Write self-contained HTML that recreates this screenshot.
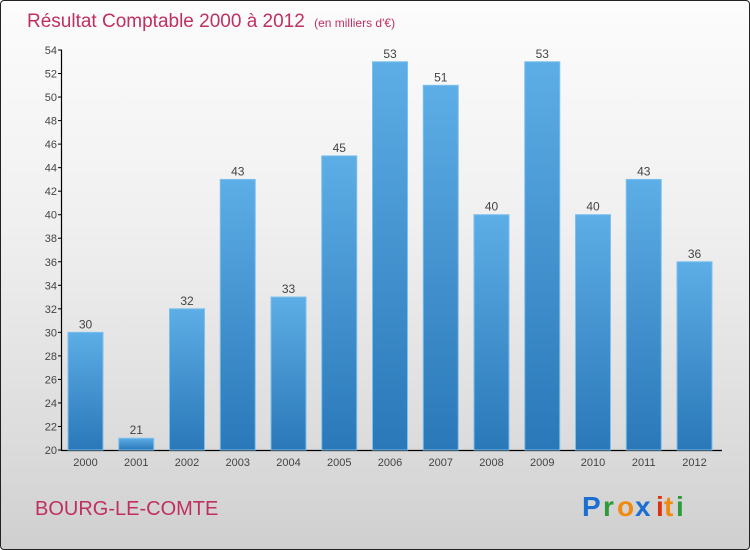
<!DOCTYPE html>
<html><head><meta charset="utf-8"><style>
html,body{margin:0;padding:0}
body{width:750px;height:550px;overflow:hidden;font-family:"Liberation Sans",sans-serif}
#wrap{position:absolute;left:0;top:0;width:748px;height:548px;border:1px solid #222;border-radius:4px;background:linear-gradient(#fcfcfc 0%,#f0f0f0 40%,#dcdcdc 80%,#cfcfcf 100%)}
</style></head><body>
<div id="wrap">
<svg width="750" height="550" style="position:absolute;left:-1px;top:-1px">
<defs>
<linearGradient id="bg" x1="0" y1="0" x2="0" y2="1"><stop offset="0" stop-color="#5dade6"/><stop offset="1" stop-color="#2a78b8"/></linearGradient>
</defs>
<text x="27" y="27" font-size="19" fill="#c0305f">Résultat Comptable 2000 à 2012 <tspan font-size="12" dx="4">(en milliers d'€)</tspan></text>
<g id="plot"></g>
<text x="35" y="515" font-size="20" fill="#c0305f">BOURG-LE-COMTE</text>
<g font-size="28" font-weight="bold">
<text x="582" y="516" fill="#1a6fd0">P</text><text x="603" y="516" fill="#2e9a3a">r</text><text x="617" y="516" fill="#f08a10">o</text><text x="635" y="516" fill="#1a6fd0">x</text><text x="656" y="516" fill="#e03010">i</text><text x="664" y="516" fill="#f08a10">t</text><text x="676" y="516" fill="#2e9a3a">i</text>
</g>
</svg>
</div>
<script>
const categories=["2000","2001","2002","2003","2004","2005","2006","2007","2008","2009","2010","2011","2012"];
const values=[30,21,32,43,33,45,53,51,40,53,40,43,36];
const yTicks=[20,22,24,26,28,30,32,34,36,38,40,42,44,46,48,50,52,54];
const NS="http://www.w3.org/2000/svg";
const g=document.getElementById('plot');
const y=v=>450-(v-20)*(400/34);
const x=i=>85.5+i*50.75;
function mk(t,a){const e=document.createElementNS(NS,t);for(const k in a)e.setAttribute(k,a[k]);g.appendChild(e);return e;}
let e=mk('line',{x1:61.5,y1:50,x2:61.5,y2:450.5,stroke:'#000','stroke-width':1.2});


e=mk('line',{x1:61,y1:450.5,x2:722,y2:450.5,stroke:'#000','stroke-width':1.2});


yTicks.forEach(v=>{
 const t=mk('line',{x1:58,x2:62,y1:y(v),y2:y(v),stroke:'#000'});
 
 
 const l=mk('text',{x:57,y:y(v)+4,'font-size':11,fill:'#444','text-anchor':'end'});
 l.textContent=v;
 
 
});
categories.forEach((c,i)=>{
 const v=values[i];
 const b=mk('rect',{x:x(i)-17.5,y:y(v),width:35,height:450-y(v),fill:'url(#bg)',stroke:'#7cc0ee','stroke-width':1});
 
 
 const vl=mk('text',{x:x(i),y:y(v)-4,'font-size':12,fill:'#444','text-anchor':'middle'});
 vl.textContent=v;
 
 
 const xl=mk('text',{x:x(i),y:466,'font-size':11,fill:'#444','text-anchor':'middle'});
 xl.textContent=c;
 
 
});
</script>
</body></html>
